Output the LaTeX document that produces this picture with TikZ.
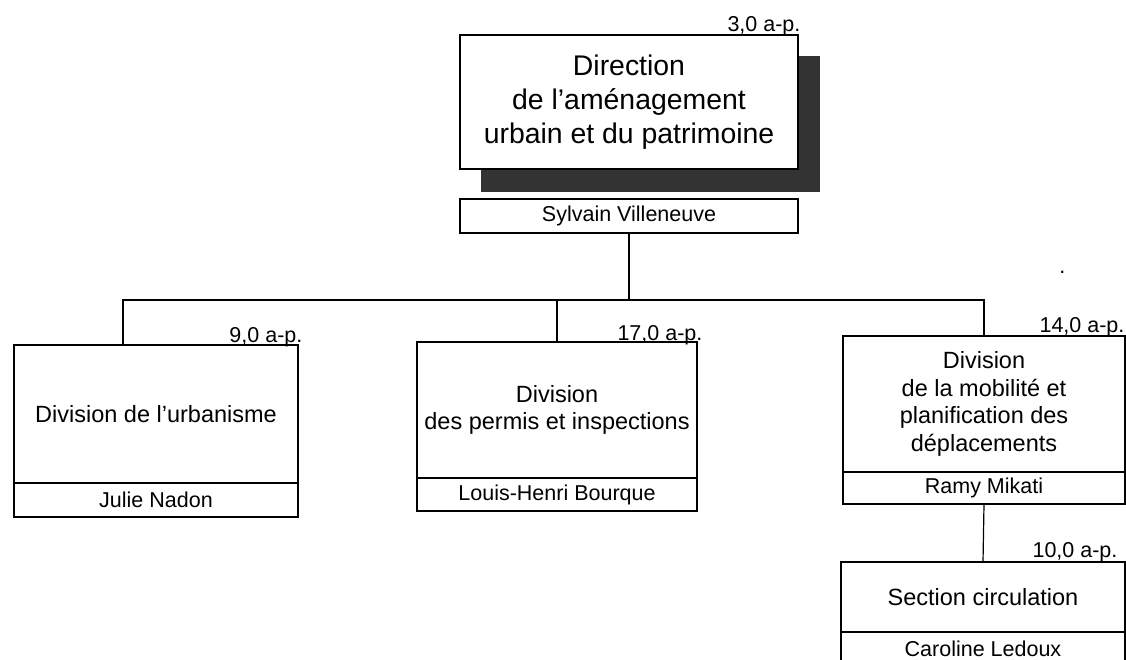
\documentclass[tikz,border=0pt]{standalone}
\usepackage{fontspec}
\setmainfont{Liberation Sans}
\usetikzlibrary{positioning, calc}
\definecolor{shadowgray}{HTML}{333333}

\begin{document}
\begin{tikzpicture}[
        x=1pt, y=-1pt,
        line width=1.2pt,
        unit/.style={rectangle, draw, fill=white, inner sep=2pt, outer sep=0pt, align=center, font=\fontsize{23.5}{27.8}\selectfont},
        namebox/.style={rectangle, draw, fill=white, inner sep=0pt, outer sep=0pt, minimum height=34pt, font=\fontsize{21.5}{24}\selectfont},
        aplabel/.style={font=\fontsize{21.5}{24}\selectfont, inner sep=0pt, anchor=base east}
    ]
    \useasboundingbox (0,0) rectangle (1126,659);

    % Direction with its drop shadow
    \fill[shadowgray] (481,56) rectangle (820,192);
    \node[unit, minimum width=338pt, minimum height=134pt, font=\fontsize{28.4}{33.8}\selectfont] (dir) at (629,102) {Direction\\de l’aménagement\\urbain et du patrimoine};
    \node[namebox, minimum width=338pt, below=30pt of dir] (sylvain) {Sylvain Villeneuve};

    % Divisions
    \node[unit, minimum width=284pt, minimum height=138pt] (urba) at (156,414) {Division de l’urbanisme};
    \node[namebox, minimum width=284pt, anchor=north] (julie) at (urba.south) {Julie Nadon};
    \node[unit, minimum width=280pt, minimum height=136pt] (permis) at (557,410) {Division\\des permis et inspections};
    \node[namebox, minimum width=280pt, minimum height=33pt, anchor=north] (louis) at (permis.south) {Louis-Henri Bourque};
    \node[unit, minimum width=282pt, minimum height=136pt] (mobi) at (984,404) {Division\\de la mobilité et\\planification des\\déplacements};
    \node[namebox, minimum width=282pt, minimum height=32pt, anchor=north] (ramy) at (mobi.south) {Ramy Mikati};

    % Section under the mobility division
    \node[unit, minimum width=284pt, minimum height=70pt] (section) at (983,597) {Section circulation};
    \node[namebox, minimum width=284pt, anchor=north] (caroline) at (section.south) {Caroline Ledoux};

    % Connectors
    \coordinate (busL) at (123,300);
    \draw (sylvain.south) -- (sylvain.south |- busL);
    \draw (busL |- urba.north) -- (busL) -| (mobi.north);
    \draw (busL -| permis.north) -- (permis.north);
    \draw (ramy.south) -- (section.north);

    % Staff counts
    \node[aplabel, xshift=3pt, yshift=4pt] (apdir) at (dir.north east) {3,0 a-p.};
    \foreach \unit/\ap/\dx/\dy in {urba/9/5/3, permis/17/6/2, mobi/14/0/4, section/10/-7/5} {
        \node[aplabel, xshift=\dx pt, yshift=\dy pt] (ap\unit) at (\unit.north east) {\ap,0 a-p.};
    }
    \node[aplabel] (dot) at (1066,273) {.};
\end{tikzpicture}
\end{document}
